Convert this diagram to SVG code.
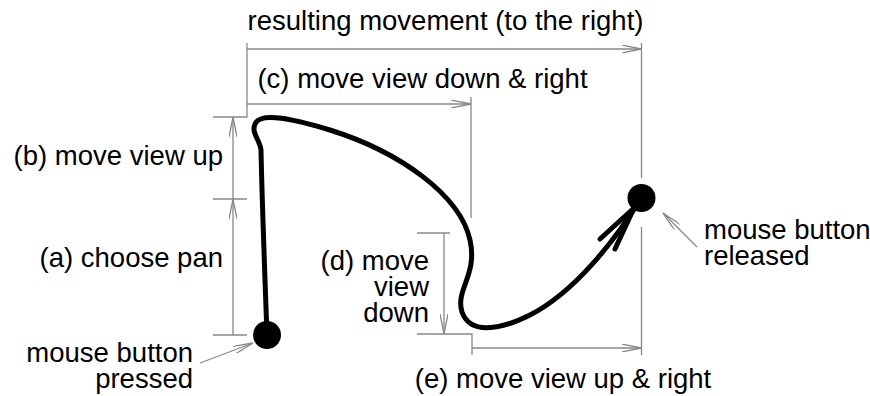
<svg xmlns="http://www.w3.org/2000/svg" width="870" height="396" viewBox="0 0 870 396">
<defs>
<style>
text{font-family:"Liberation Sans",Arial,sans-serif;font-size:27.5px;fill:#000}
.dim{fill:none;stroke:#888;stroke-width:1.3}
.curve{fill:none;stroke:#000;stroke-width:5;stroke-linecap:round;stroke-linejoin:round}
</style>
<marker id="ah" viewBox="0 0 20 8" refX="20" refY="4" markerWidth="20" markerHeight="8" markerUnits="userSpaceOnUse" orient="auto">
<path d="M0,0 L20,4 L0,8" fill="none" stroke="#888" stroke-width="1.3"/>
</marker>
</defs>
<rect width="870" height="396" fill="#fff"/>
<g id="connectors">
<path class="dim" d="M247,43 V117 H213"/>
<path class="dim" d="M641.5,43 V178"/>
<path class="dim" d="M641.5,227 V355"/>
<path class="dim" d="M247,49 H641.5" marker-end="url(#ah)"/>
<path class="dim" d="M247,104 H471" marker-end="url(#ah)"/>
<path class="dim" d="M471,97 V218"/>
<path class="dim" d="M213,199 H247"/>
<path class="dim" d="M213,335 H247"/>
<path class="dim" d="M233,199 V117" marker-end="url(#ah)"/>
<path class="dim" d="M233,335 V199" marker-end="url(#ah)"/>
<path class="dim" d="M417,233 H450"/>
<path class="dim" d="M444,233 V334" marker-end="url(#ah)"/>
<path class="dim" d="M417,334 H472 V355"/>
<path class="dim" d="M472,348 H641.5" marker-end="url(#ah)"/>
<path class="dim" d="M200,363 L253,343" marker-end="url(#ah)"/>
<path class="dim" d="M697,247 L663,213" marker-end="url(#ah)"/>
</g>
<g id="path-curve">
<path class="curve" d="M267,335 C265,280 262,200 261,150 C260,140 251,133 255,124 C260,112 290,118 330,130 C400,152 460,195 470,240 C478,275 455,290 462,312 C470,335 500,330 530,315 C575,292 615,240 640,200"/>
<path class="curve" d="M600,239 L634,208 L615,249"/>
</g>
<g id="start-dot"><circle cx="267" cy="335" r="14" fill="#000"/></g>
<g id="end-dot"><circle cx="641.5" cy="198" r="14" fill="#000"/></g>
<g id="labels">
<text x="445.5" y="30" text-anchor="middle">resulting movement (to the right)</text>
<text x="422.5" y="88" text-anchor="middle">(c) move view down &amp; right</text>
<text x="223" y="165" text-anchor="end">(b) move view up</text>
<text x="223" y="267" text-anchor="end">(a) choose pan</text>
<text x="429" y="270" text-anchor="end">(d) move</text>
<text x="429" y="296" text-anchor="end">view</text>
<text x="429" y="322" text-anchor="end">down</text>
<text x="193" y="362" text-anchor="end">mouse button</text>
<text x="193" y="388" text-anchor="end">pressed</text>
<text x="704" y="239">mouse button</text>
<text x="704" y="265">released</text>
<text x="563" y="388" text-anchor="middle">(e) move view up &amp; right</text>
</g>
</svg>
